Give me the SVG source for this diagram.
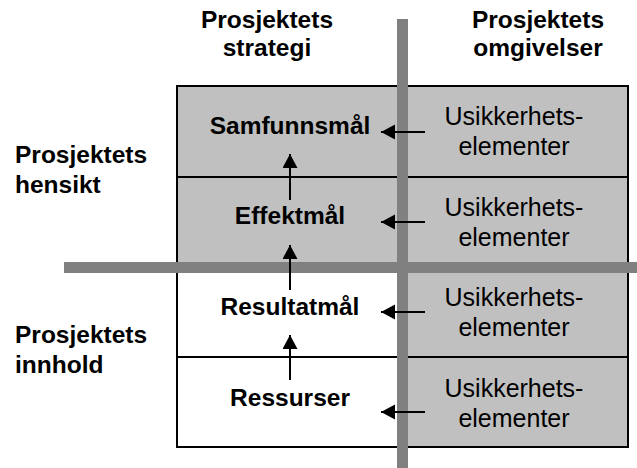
<svg xmlns="http://www.w3.org/2000/svg" width="637" height="468" viewBox="0 0 637 468">
  <style>
    .b { font-family: "Liberation Sans", Arial, sans-serif; font-weight: bold; font-size: 24.5px; fill: #000; }
    .r { font-family: "Liberation Sans", Arial, sans-serif; font-size: 25px; fill: #000; }
    .cell { stroke: #000; stroke-width: 2; }
    .grey { fill: #c0c0c0; }
    .white { fill: #fff; }
    .bar { fill: #808080; }
    .conn { stroke: #000; stroke-width: 2; fill: none; marker-end: url(#head); }
  </style>
  <defs>
    <marker id="head" markerUnits="userSpaceOnUse" markerWidth="16" markerHeight="16" refX="14" refY="7.5" orient="auto">
      <path d="M0,0 L14,7.5 L0,15 Z" fill="#000"/>
    </marker>
  </defs>
  <rect width="637" height="468" fill="#fff"/>

  <!-- headers -->
  <g id="header-strategi">
    <text class="b" x="267" y="28" text-anchor="middle">Prosjektets</text>
    <text class="b" x="267" y="56" text-anchor="middle">strategi</text>
  </g>
  <g id="header-omgivelser">
    <text class="b" x="538" y="28" text-anchor="middle">Prosjektets</text>
    <text class="b" x="538" y="56" text-anchor="middle">omgivelser</text>
  </g>
  <g id="label-hensikt">
    <text class="b" x="15" y="163">Prosjektets</text>
    <text class="b" x="15" y="193">hensikt</text>
  </g>
  <g id="label-innhold">
    <text class="b" x="15" y="343">Prosjektets</text>
    <text class="b" x="15" y="373">innhold</text>
  </g>

  <!-- left column -->
  <g id="samfunnsmal">
    <rect class="cell grey" x="177" y="86" width="226" height="91"/>
    <text class="b" x="290" y="134" text-anchor="middle">Samfunnsmål</text>
  </g>
  <g id="effektmal">
    <rect class="cell grey" x="177" y="177" width="226" height="89"/>
    <text class="b" x="290" y="224" text-anchor="middle">Effektmål</text>
  </g>
  <g id="resultatmal">
    <rect class="cell white" x="177" y="266" width="226" height="91"/>
    <text class="b" x="290" y="315" text-anchor="middle">Resultatmål</text>
  </g>
  <g id="ressurser">
    <rect class="cell white" x="177" y="357" width="226" height="90"/>
    <text class="b" x="290" y="406" text-anchor="middle">Ressurser</text>
  </g>

  <!-- right column -->
  <g id="usikkerhet-1">
    <rect class="cell grey" x="403" y="86" width="225" height="91"/>
    <text class="r" x="514" y="125" text-anchor="middle">Usikkerhets-</text>
    <text class="r" x="514" y="155" text-anchor="middle">elementer</text>
  </g>
  <g id="usikkerhet-2">
    <rect class="cell grey" x="403" y="177" width="225" height="89"/>
    <text class="r" x="514" y="215.5" text-anchor="middle">Usikkerhets-</text>
    <text class="r" x="514" y="245.5" text-anchor="middle">elementer</text>
  </g>
  <g id="usikkerhet-3">
    <rect class="cell grey" x="403" y="266" width="225" height="91"/>
    <text class="r" x="514" y="306" text-anchor="middle">Usikkerhets-</text>
    <text class="r" x="514" y="336" text-anchor="middle">elementer</text>
  </g>
  <g id="usikkerhet-4">
    <rect class="cell grey" x="403" y="357" width="225" height="90"/>
    <text class="r" x="514" y="397" text-anchor="middle">Usikkerhets-</text>
    <text class="r" x="514" y="427" text-anchor="middle">elementer</text>
  </g>

  <!-- dividing bars -->
  <g id="axes">
    <rect class="bar" x="397" y="19" width="11" height="449"/>
    <rect class="bar" x="64" y="262" width="573" height="11"/>
  </g>

  <!-- connectors -->
  <g id="connectors">
    <line class="conn" x1="290" y1="200" x2="290" y2="154"/>
    <line class="conn" x1="290" y1="290" x2="290" y2="245"/>
    <line class="conn" x1="290" y1="380" x2="290" y2="335"/>
    <line class="conn" x1="425" y1="132" x2="381" y2="132"/>
    <line class="conn" x1="425" y1="222" x2="381" y2="222"/>
    <line class="conn" x1="425" y1="312" x2="381" y2="312"/>
    <line class="conn" x1="425" y1="412" x2="381" y2="412"/>
  </g>
</svg>
